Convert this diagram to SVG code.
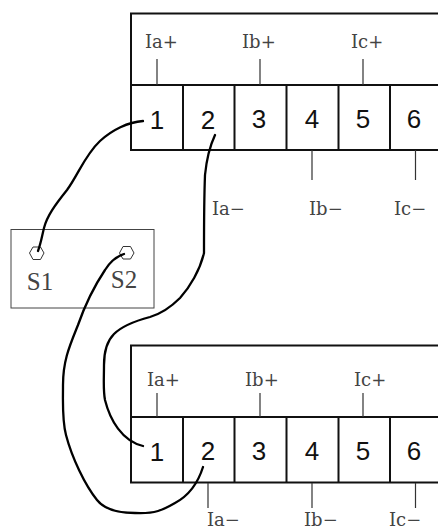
<svg xmlns="http://www.w3.org/2000/svg" width="438" height="530" viewBox="0 0 438 530">
<style>
.frame{fill:none;stroke:#111;stroke-width:2}
.lead{fill:none;stroke:#333;stroke-width:1.2}
.box{fill:none;stroke:#444;stroke-width:1}
.wire{fill:none;stroke:#000;stroke-width:2.300;stroke-linecap:round;stroke-linejoin:round}
.hex{fill:#fff;stroke:#333;stroke-width:1}
.num{font-family:"Liberation Sans",Arial,sans-serif;font-size:26px;fill:#111;text-anchor:middle}
.lab{font-family:"DejaVu Serif","Liberation Serif",serif;font-size:18px;fill:#444}
.s{font-family:"Liberation Serif","Times New Roman",serif;font-size:25px;fill:#444;text-anchor:middle}
</style>
<rect width="438" height="530" fill="#fff"/>
<g id="block-top">
<path class="frame" d="M440 13.500H131V150H440M131 85H440M183 85V150M234.500 85V150M286.500 85V150M338.500 85V150M390 85V150"/>
<path class="lead" d="M157 59V85M260 59V85M363 59V85M312 150V180M415.500 150V180"/>
<g class="num"><text x="157" y="129">1</text><text x="208" y="129">2</text><text x="259" y="128">3</text><text x="312" y="128">4</text><text x="363" y="128">5</text><text x="414" y="128">6</text></g>
<g class="lab"><text x="145" y="48">Ia+</text><text x="242" y="48">Ib+</text><text x="351" y="48">Ic+</text><text x="212" y="215">Ia−</text><text x="309" y="215">Ib−</text><text x="394" y="215">Ic−</text></g>
</g>
<g id="block-bottom">
<path class="frame" d="M440 345.500H131V482.500H440M131 417H440M183 417V482.500M234.500 417V482.500M286.500 417V482.500M338.500 417V482.500M390 417V482.500"/>
<path class="lead" d="M157 393V417M260 393V417M363 393V417M208 483V508M312 483V508M415.500 483V508"/>
<g class="num"><text x="157" y="461">1</text><text x="208" y="460">2</text><text x="259" y="460">3</text><text x="312" y="460">4</text><text x="363" y="460">5</text><text x="414" y="460">6</text></g>
<g class="lab"><text x="147" y="386">Ia+</text><text x="245" y="386">Ib+</text><text x="354" y="386">Ic+</text><text x="207" y="526">Ia−</text><text x="304" y="526">Ib−</text><text x="389" y="526">Ic−</text></g>
</g>
<g id="source-box">
<rect class="box" x="11" y="229.500" width="143" height="78.500"/>
<polygon class="hex" points="29.500,253 33,247 40.500,247 44,253 40.500,259.500 33,259.500"/>
<polygon class="hex" points="119.500,253 123,246.500 130.500,246.500 134,253 130.500,259 123,259"/>
<g class="s"><text x="40" y="290">S1</text><text x="124" y="288">S2</text></g>
</g>
<g id="connectors">
<path class="wire" d="M143 121C128 122 112 130 100 141C85 155 78 175 67 190C55 205 47 216 44 228C42 236 41 243 38 251"/>
<path class="wire" d="M215 135C208 150 206 165 205 175C204 200 204 235 204 253C200 270 190 287 180 298C170 308 160 314 150 317C135 321 122 326 114 334C106 342 104 352 104 365C104 380 103 390 105 400C110 420 122 441 143 446"/>
<path class="wire" d="M124 254C115 257 110 262 105 270C95 285 85 305 78 325C70 345 63 360 63 385C63 405 62 420 66 435C72 458 85 485 97 500C105 510 120 513 135 513C155 514 163 510 175 503C190 495 198 483 203 467"/>
</g>
</svg>
